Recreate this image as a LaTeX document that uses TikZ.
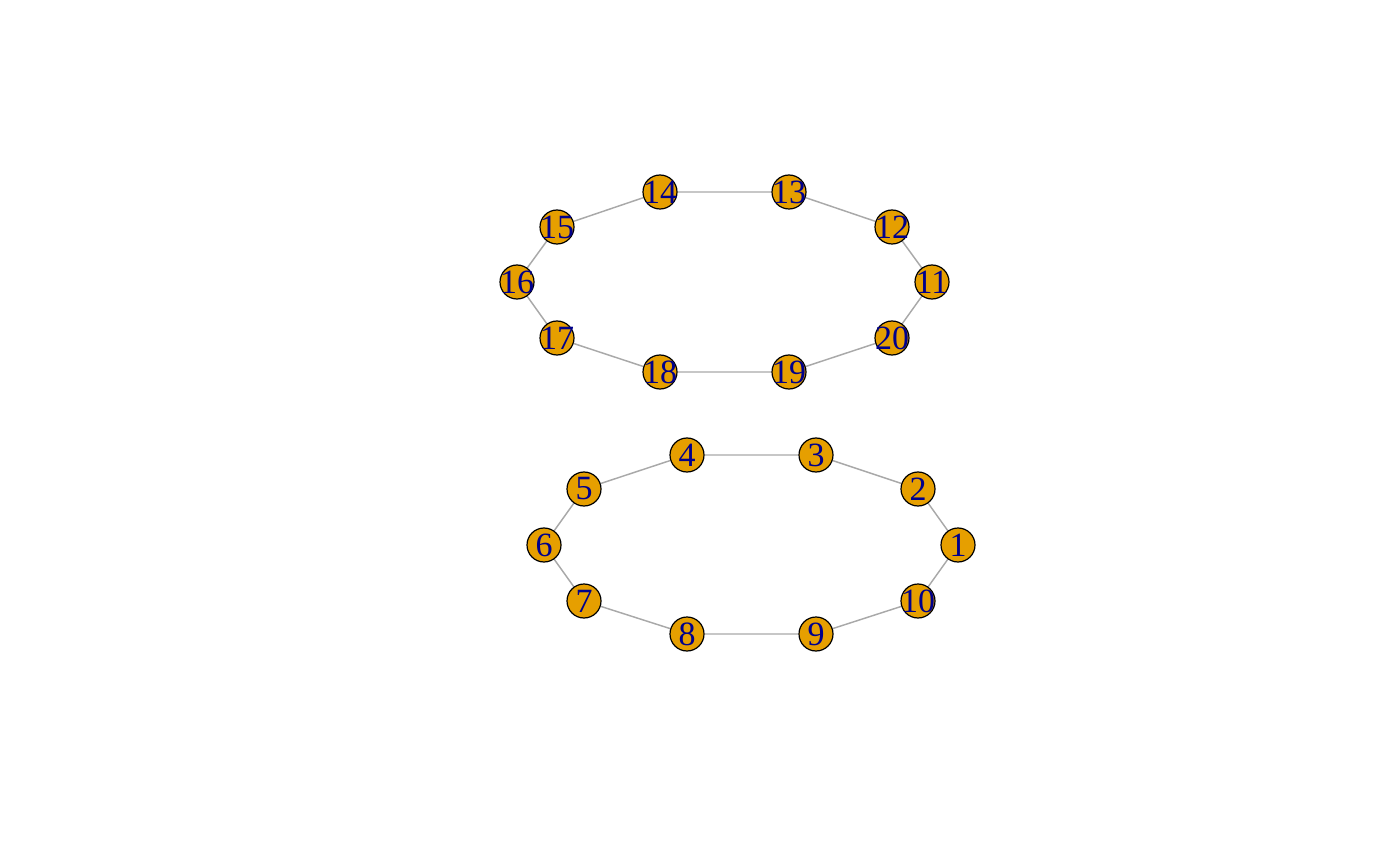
\documentclass[tikz,border=0pt]{standalone}
\usepackage{fontspec}
\setmainfont{Liberation Serif}
\usepackage{tikz}
\pgfdeclarelayer{background}
\pgfsetlayers{background,main}
\definecolor{vorange}{HTML}{E69F00}
\definecolor{vlabel}{HTML}{00008B}
\definecolor{vedge}{HTML}{A9A9A9}

\begin{document}
\begin{tikzpicture}[x=0.75pt,y=-0.75pt]
		\tikzstyle{vertex}=[circle,draw=black,line width=0.9pt,fill=vorange,
			minimum size=25.5pt,inner sep=0pt];
		\tikzstyle{vname}=[inner sep=0pt,text=vlabel,font=\fontsize{25.5}{25.5}\selectfont];
		\tikzstyle{edge}=[draw=vedge,line width=1.1pt];
		\useasboundingbox(0,0)rectangle(1400,866);

		\node[vertex,label={[vname]center:1}](1)at(958,545){};
		\node[vertex,label={[vname]center:2}](2)at(918,489){};
		\node[vertex,label={[vname]center:3}](3)at(816,455){};
		\node[vertex,label={[vname]center:4}](4)at(687,455){};
		\node[vertex,label={[vname]center:5}](5)at(584,489){};
		\node[vertex,label={[vname]center:6}](6)at(544,545){};
		\node[vertex,label={[vname]center:7}](7)at(584,601){};
		\node[vertex,label={[vname]center:8}](8)at(687,634){};
		\node[vertex,label={[vname]center:9}](9)at(816,634){};
		\node[vertex,label={[vname]center:10}](10)at(918,601){};

		\node[vertex,label={[vname]center:11}](11)at(932,282){};
		\node[vertex,label={[vname]center:12}](12)at(892,227){};
		\node[vertex,label={[vname]center:13}](13)at(789,192){};
		\node[vertex,label={[vname]center:14}](14)at(660,192){};
		\node[vertex,label={[vname]center:15}](15)at(557,227){};
		\node[vertex,label={[vname]center:16}](16)at(517,282){};
		\node[vertex,label={[vname]center:17}](17)at(557,338){};
		\node[vertex,label={[vname]center:18}](18)at(660,372){};
		\node[vertex,label={[vname]center:19}](19)at(789,372){};
		\node[vertex,label={[vname]center:20}](20)at(892,338){};

		\begin{pgfonlayer}{background}
		\draw[edge](1)--(2)(2)--(3)(3)--(4)(4)--(5)(5)--(6);
		\draw[edge](6)--(7)(7)--(8)(8)--(9)(9)--(10)(10)--(1);
		\draw[edge](11)--(12)(12)--(13)(13)--(14)(14)--(15)(15)--(16);
		\draw[edge](16)--(17)(17)--(18)(18)--(19)(19)--(20)(20)--(11);
		\end{pgfonlayer}
	\end{tikzpicture}
\end{document}
